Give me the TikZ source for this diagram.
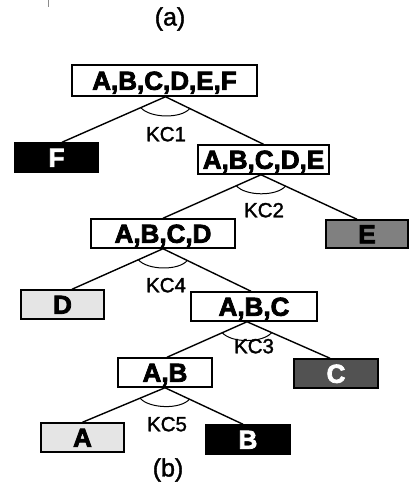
\documentclass[tikz,border=0pt]{standalone}
\usepackage{fontspec}
\setmainfont{Liberation Sans}[FakeBold=1.5, BoldFeatures={FakeBold=3}]
\usetikzlibrary{calc}

% short curved mark across the two branches under a parent
\newcommand\kcmark[3]{%
  \path ($(#1)!27pt!(#2)$) coordinate (kl) ($(#1)!27pt!(#3)$) coordinate (kr);
  \draw[kcarc] (kl) .. controls ($(kl)+(9,10.5)$) and ($(kr)+(-9,10.5)$) .. (kr);
}

\begin{document}
\begin{tikzpicture}[x=1pt,y=-1pt,
  setbox/.style={draw=black, line width=1.5pt, fill=white, inner sep=0pt,
    minimum height=29pt, text height=18.5pt, text depth=0pt,
    font=\fontsize{26}{26}\selectfont\bfseries},
  leaf/.style={setbox, minimum width=84pt},
  dark/.style={leaf, fill=black, text=white},
  mid/.style={leaf, fill=black!50},
  deep/.style={leaf, fill=black!68, text=white},
  pale/.style={leaf, fill=black!10},
  branch/.style={line width=1.4pt},
  kcarc/.style={line width=1pt},
  kclabel/.style={inner sep=0pt, text height=14.5pt, text depth=0pt,
    font=\fontsize{20.5}{20.5}\selectfont},
  caption/.style={inner sep=0pt, font=\fontsize{25}{25}\selectfont}]
\useasboundingbox (0,0) rectangle (409,485);

% small tick at the top edge
\draw[black!45, line width=1pt] (48,0) -- (48,7);

\node[caption] (capa) at (170,19) {(a)};
\node[caption] (capb) at (168,470) {(b)};

% set nodes
\node[setbox, minimum width=185pt, minimum height=31pt] (abcdef) at (164.5,80.5) {A,B,C,D,E,F};
\node[dark] (f) at (56.5,157.5) {F};
\node[setbox, minimum width=131pt] (abcde) at (263.5,159.5) {A,B,C,D,E};
\node[setbox, minimum width=144pt] (abcd) at (163,233.5) {A,B,C,D};
\node[mid, minimum width=82pt, minimum height=28pt] (e) at (367,234) {E};
\node[pale, minimum width=83pt] (d) at (62.5,304.5) {D};
\node[setbox, minimum width=126pt] (abc) at (254,306.5) {A,B,C};
\node[setbox, minimum width=94pt] (ab) at (165,372.5) {A,B};
\node[deep] (c) at (336,373.5) {C};
\node[pale, minimum width=83pt] (a) at (82.5,437.5) {A};
\node[dark] (b) at (248,439.5) {B};

% branch end points on the boxes
\coordinate (p1) at ([xshift=1pt]abcdef.south);
\coordinate (p2) at ([xshift=-2.5pt]abcde.south);
\coordinate (p3) at (abcd.south);
\coordinate (p4) at ([xshift=-7pt]abc.south);
\coordinate (p5) at (ab.south);
\coordinate (tf) at ([xshift=5.5pt]f.north);
\coordinate (tabcde) at (abcde.north);
\coordinate (tabcd) at (abcd.north);
\coordinate (te) at ([xshift=-10pt]e.north);
\coordinate (td) at ([xshift=9.5pt]d.north);
\coordinate (tabc) at ([xshift=-3pt]abc.north);
\coordinate (tab) at ([xshift=2pt]ab.north);
\coordinate (tc) at ([xshift=-6pt]c.north);
\coordinate (ta) at (a.north);
\coordinate (tb) at ([xshift=-5pt]b.north);

% branches
\draw[branch] (tf) -- (p1) -- (tabcde);
\draw[branch] (tabcd) -- (p2) -- (te);
\draw[branch] (td) -- (p3) -- (tabc);
\draw[branch] (tab) -- (p4) -- (tc);
\draw[branch] (ta) -- (p5) -- (tb);

% split marks
\kcmark{p1}{tf}{tabcde}
\kcmark{p2}{tabcd}{te}
\kcmark{p3}{td}{tabc}
\kcmark{p4}{tab}{tc}
\kcmark{p5}{ta}{tb}

% split labels
\node[kclabel] (kc1) at (166,134) {KC1};
\node[kclabel] (kc2) at (264,210) {KC2};
\node[kclabel] (kc4) at (166,285) {KC4};
\node[kclabel] (kc3) at (254,346) {KC3};
\node[kclabel] (kc5) at (167,424) {KC5};
\end{tikzpicture}
\end{document}
